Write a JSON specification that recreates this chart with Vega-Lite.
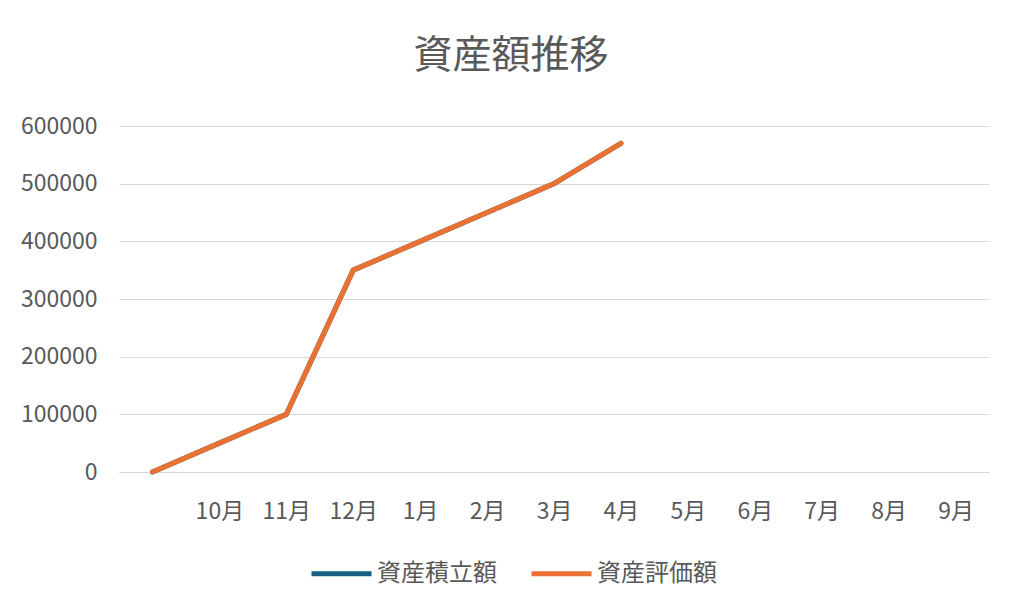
{
  "$schema": "https://vega.github.io/schema/vega-lite/v6.json",
  "width": 870,
  "height": 346,
  "padding": {"left": 20, "top": 37, "right": 30, "bottom": 10},
  "background": "white",
  "title": {
    "text": "資産額推移",
    "fontSize": 39,
    "fontWeight": "normal",
    "color": "#595959",
    "font": "Noto Sans CJK JP",
    "anchor": "middle",
    "dx": -43,
    "offset": 39
  },
  "data": {
    "values": [
      {"month": "", "series": "資産積立額", "amount": 0},
      {"month": "10月", "series": "資産積立額", "amount": 50000},
      {"month": "11月", "series": "資産積立額", "amount": 100000},
      {"month": "12月", "series": "資産積立額", "amount": 350000},
      {"month": "1月", "series": "資産積立額", "amount": 400000},
      {"month": "2月", "series": "資産積立額", "amount": 450000},
      {"month": "3月", "series": "資産積立額", "amount": 500000},
      {"month": "4月", "series": "資産積立額", "amount": 570000},
      {"month": "", "series": "資産評価額", "amount": 0},
      {"month": "10月", "series": "資産評価額", "amount": 50000},
      {"month": "11月", "series": "資産評価額", "amount": 100000},
      {"month": "12月", "series": "資産評価額", "amount": 350000},
      {"month": "1月", "series": "資産評価額", "amount": 400000},
      {"month": "2月", "series": "資産評価額", "amount": 450000},
      {"month": "3月", "series": "資産評価額", "amount": 500000},
      {"month": "4月", "series": "資産評価額", "amount": 570000}
    ]
  },
  "mark": {"type": "line", "strokeWidth": 5, "strokeCap": "round", "strokeJoin": "round"},
  "encoding": {
    "x": {
      "field": "month",
      "type": "ordinal",
      "sort": null,
      "scale": {
        "type": "point",
        "padding": 0.5,
        "domain": ["", "10月", "11月", "12月", "1月", "2月", "3月", "4月", "5月", "6月", "7月", "8月", "9月"]
      },
      "axis": {
        "title": null,
        "labelAngle": 0,
        "ticks": false,
        "grid": false,
        "domainColor": "#D9D9D9",
        "labelPadding": 28,
        "labelFontSize": 23,
        "labelColor": "#595959",
        "labelFont": "Noto Sans CJK JP"
      }
    },
    "y": {
      "field": "amount",
      "type": "quantitative",
      "scale": {"domain": [0, 600000], "nice": false},
      "axis": {
        "title": null,
        "values": [0, 100000, 200000, 300000, 400000, 500000, 600000],
        "format": "d",
        "ticks": false,
        "domain": false,
        "gridColor": "#D9D9D9",
        "labelPadding": 22,
        "labelFontSize": 23,
        "labelColor": "#595959",
        "labelFont": "Noto Sans CJK JP"
      }
    },
    "color": {
      "field": "series",
      "type": "nominal",
      "scale": {"domain": ["資産積立額", "資産評価額"], "range": ["#156082", "#E97132"]},
      "legend": {
        "orient": "none",
        "legendX": 190,
        "legendY": 415,
        "direction": "horizontal",
        "title": null,
        "symbolType": "stroke",
        "symbolStrokeWidth": 5,
        "symbolSize": 3600,
        "labelFontSize": 24,
        "labelOffset": 3,
        "labelColor": "#595959",
        "labelFont": "Noto Sans CJK JP",
        "columnPadding": 24
      }
    }
  },
  "config": {"view": {"stroke": null}}
}
